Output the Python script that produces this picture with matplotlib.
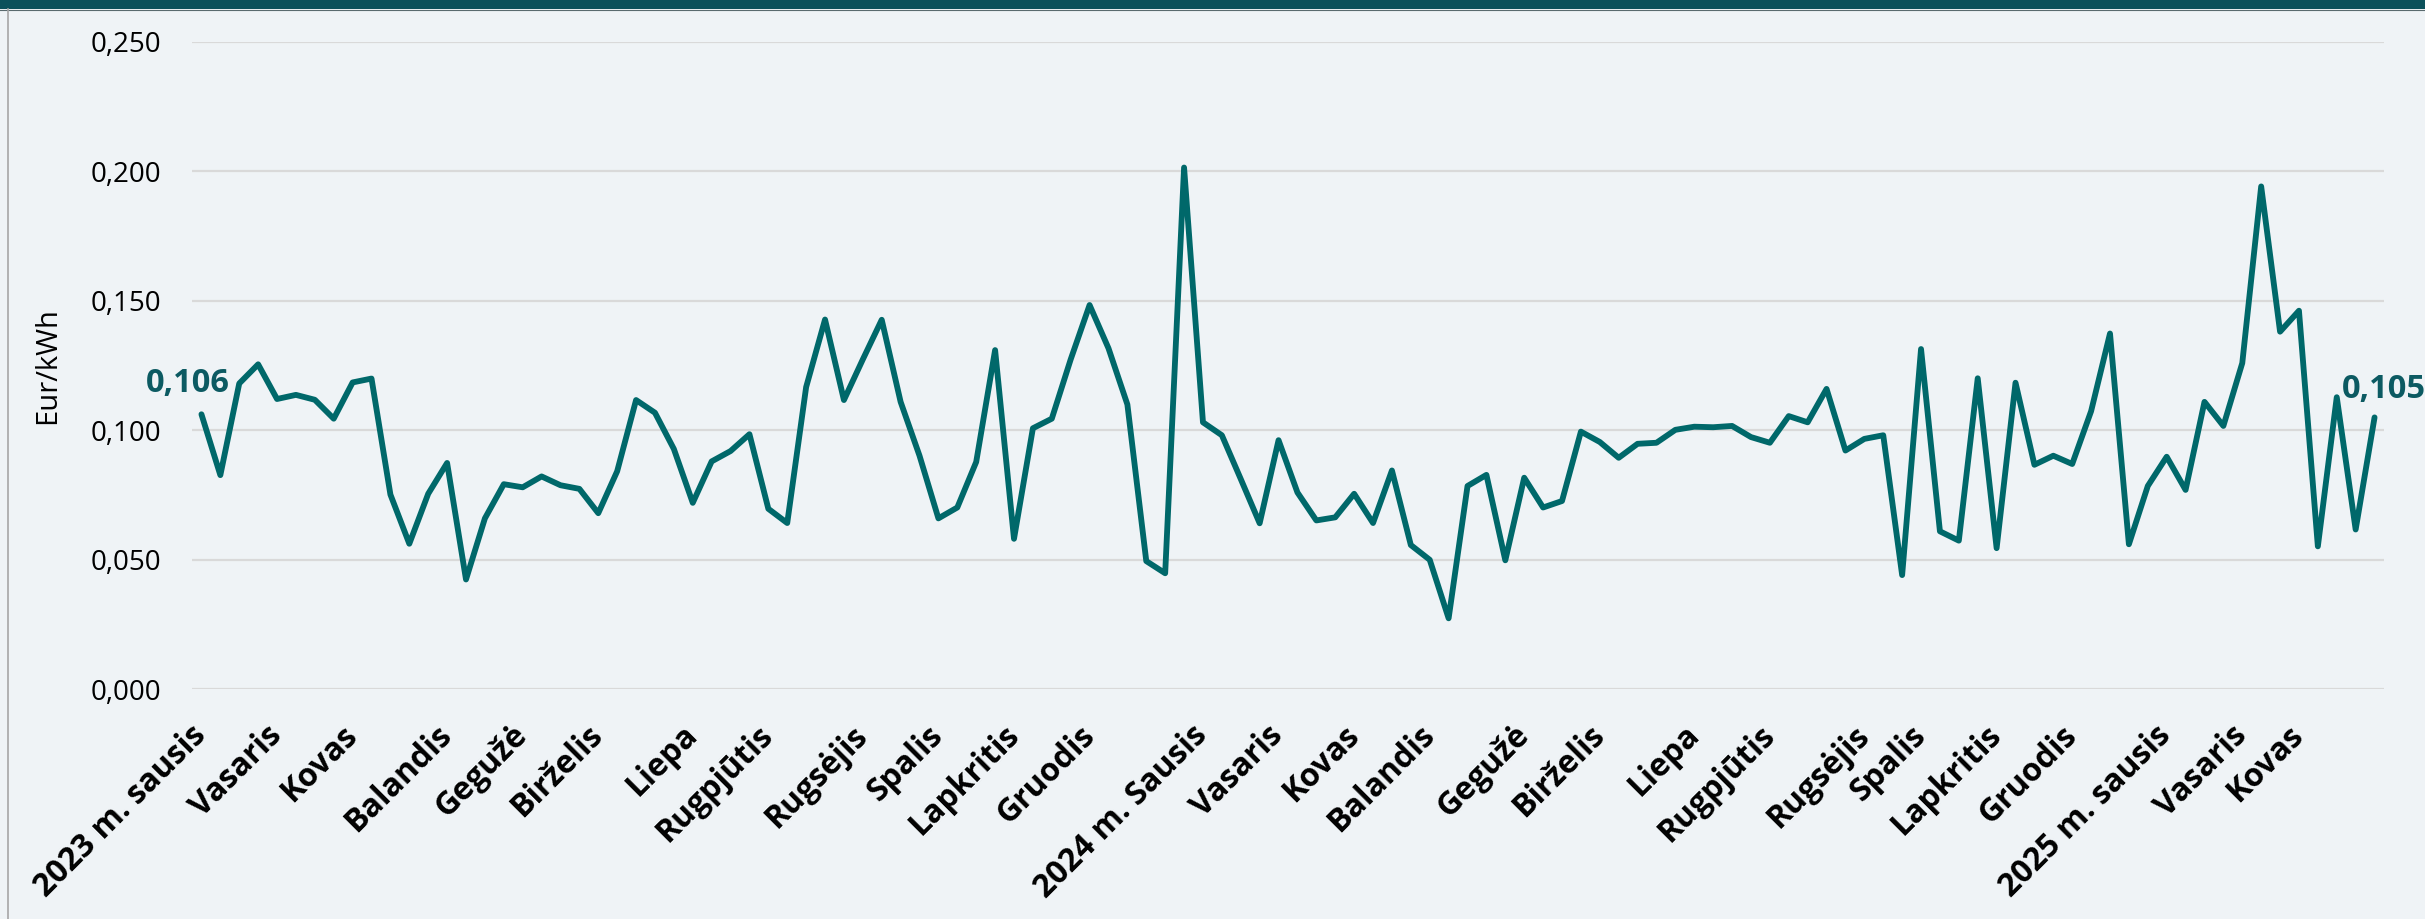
import matplotlib
matplotlib.use("Agg")
import matplotlib.pyplot as plt
from matplotlib.patches import Rectangle
from matplotlib.lines import Line2D
from matplotlib.ticker import MultipleLocator, FuncFormatter

# ---- data ----
prices = [
    0.1061, 0.0826, 0.1180, 0.1254, 0.1120, 0.1136, 0.1117, 0.1044, 0.1184, 0.1199,
    0.0751, 0.0561, 0.0754, 0.0873, 0.0423, 0.0659, 0.0791, 0.0779, 0.0821, 0.0787,
    0.0773, 0.0679, 0.0841, 0.1116, 0.1067, 0.0927, 0.0719, 0.0879, 0.0919, 0.0984,
    0.0696, 0.0641, 0.1166, 0.1427, 0.1116, 0.1273, 0.1426, 0.1109, 0.0901, 0.0659,
    0.0701, 0.0877, 0.1309, 0.0580, 0.1007, 0.1044, 0.1273, 0.1483, 0.1316, 0.1099,
    0.0494, 0.0447, 0.2014, 0.1030, 0.0980, 0.0811, 0.0640, 0.0961, 0.0759, 0.0651,
    0.0663, 0.0754, 0.0641, 0.0844, 0.0556, 0.0499, 0.0273, 0.0784, 0.0827, 0.0497,
    0.0816, 0.0701, 0.0726, 0.0994, 0.0954, 0.0893, 0.0947, 0.0951, 0.1001, 0.1013,
    0.1011, 0.1016, 0.0973, 0.0951, 0.1054, 0.1030, 0.1159, 0.0921, 0.0966, 0.0980,
    0.0440, 0.1313, 0.0609, 0.0573, 0.1200, 0.0544, 0.1183, 0.0866, 0.0901, 0.0869,
    0.1073, 0.1373, 0.0559, 0.0784, 0.0897, 0.0769, 0.1109, 0.1016, 0.1259, 0.1941,
    0.1380, 0.1461, 0.0551, 0.1127, 0.0616, 0.1049,
]
label_idx = [0, 4, 8, 13, 17, 21, 26, 30, 35, 39, 43, 47, 53, 57, 61, 65, 70, 74,
             79, 83, 88, 91, 95, 99, 104, 108, 111]
month_labels = ["2023 m. sausis", "Vasaris", "Kovas", "Balandis", "Gegužė", "Birželis",
                "Liepa", "Rugpjūtis", "Rugsėjis", "Spalis", "Lapkritis", "Gruodis",
                "2024 m. Sausis", "Vasaris", "Kovas", "Balandis", "Gegužė", "Birželis",
                "Liepa", "Rugpjūtis", "Rugsėjis", "Spalis", "Lapkritis", "Gruodis",
                "2025 m. sausis", "Vasaris", "Kovas"]
first_label = "0,106"
last_label = "0,105"
y_title = "Eur/kWh"

BG = "#eff3f6"
LINE = "#00686a"
ANN = "#0c5a62"

plt.rcParams['font.family'] = ['Open Sans', 'DejaVu Sans']

fig = plt.figure(figsize=(24.25, 9.19), dpi=100, facecolor=BG)
ax = fig.add_axes([192/2425, 1-689/919, (2384-192)/2425, (689-41.7)/919])
ax.set_facecolor(BG)

x = list(range(len(prices)))
ax.plot(x, prices, color=LINE, lw=4.2, solid_joinstyle='round', solid_capstyle='round',
        zorder=3, clip_on=False)

ax.set_xlim(-0.5, len(prices) - 0.5)
ax.set_ylim(0, 0.25)
ax.yaxis.set_major_locator(MultipleLocator(0.05))
ax.yaxis.set_major_formatter(FuncFormatter(lambda v, p: f"{v:.3f}".replace(".", ",")))
ax.grid(axis='y', color='#d9d9d9', lw=1.6, zorder=0)
ax.set_axisbelow(True)
for s in ax.spines.values():
    s.set_visible(False)

ax.tick_params(axis='y', length=0, pad=22, labelsize=20, labelcolor='black')
ax.set_xticks(label_idx)
ax.set_xticklabels(month_labels, rotation=45, ha='right', va='center',
                   rotation_mode='anchor', fontsize=23, fontweight='bold')
ax.tick_params(axis='x', length=0, pad=30)

ax.set_ylabel(y_title, fontsize=21, labelpad=14)
ax.yaxis.set_label_coords(62/2425, 1-366/919, transform=fig.transFigure)

ax.annotate(first_label, (x[0], prices[0]), xytext=(-10, 22), textcoords='offset points',
            ha='center', va='center', fontsize=23.5, fontweight='bold', color=ANN,
            annotation_clip=False)
ax.annotate(last_label, (x[-1], prices[-1]), xytext=(7, 20), textcoords='offset points',
            ha='center', va='center', fontsize=23.5, fontweight='bold', color=ANN,
            annotation_clip=False)

# frame decorations
fig.add_artist(Rectangle((0, 1-9/919), 1, 9/919, transform=fig.transFigure,
                         facecolor='#0b515b', edgecolor='none'))
fig.add_artist(Line2D([0, 1], [1-9.5/919, 1-9.5/919], transform=fig.transFigure,
                      color='#5a6a6e', lw=0.8))
fig.add_artist(Line2D([8/2425, 8/2425], [0, 1-9/919], transform=fig.transFigure,
                      color='#a6a6a6', lw=1.2))

fig.savefig("out.png", dpi=100, facecolor=BG)
